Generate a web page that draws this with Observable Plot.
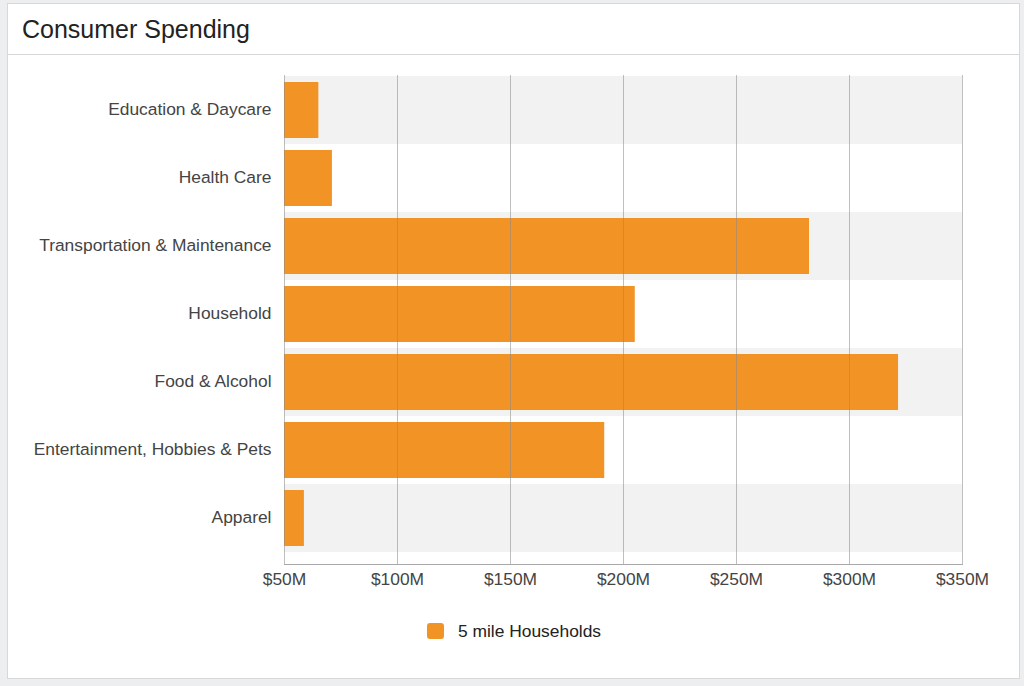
<!DOCTYPE html>
<html><head><meta charset="utf-8">
<script src="https://cdn.jsdelivr.net/npm/d3@7"></script>
<script src="https://cdn.jsdelivr.net/npm/@observablehq/plot@0.6"></script>
<style>
html,body{margin:0;padding:0;}
body{width:1024px;height:686px;background:#eceef0;position:relative;overflow:hidden;font-family:"Liberation Sans",Arial,Helvetica,sans-serif;}
#panel{position:absolute;left:7px;top:3px;width:1013px;height:676px;background:#fff;border:1px solid #d6d8da;box-sizing:border-box;}
#hline{position:absolute;left:8px;top:54px;width:1011px;height:1px;background:#d6d8da;}
#title{position:absolute;left:22px;top:17px;font-size:25px;line-height:25px;color:#222;white-space:nowrap;}
#chart{position:absolute;left:0;top:55px;}
#legend{position:absolute;left:427px;top:623px;height:16px;}
#legend .sw{position:absolute;left:0;top:0;width:17px;height:16px;border-radius:3px;}
#legend .lb{position:absolute;left:31px;top:-0.5px;font-size:17.4px;line-height:17px;color:#222;white-space:nowrap;}
</style></head>
<body>
<div id="panel"></div>
<div id="hline"></div>
<div id="title">Consumer Spending</div>
<div id="chart"></div>
<div id="legend"><div class="sw"></div><div class="lb"></div></div>
<script>
const categories = ["Education & Daycare","Health Care","Transportation & Maintenance","Household","Food & Alcohol","Entertainment, Hobbies & Pets","Apparel"];
const values = [65.2, 71.2, 282.3, 205.2, 321.7, 191.7, 58.8];
const xTicks = [50, 100, 150, 200, 250, 300, 350];
const seriesName = "5 mile Households";
const barColor = "#f29325";

const data = categories.map((c, i) => ({category: c, value: values[i]}));
const shaded = categories.filter((c, i) => i % 2 === 0);
const xMin = xTicks[0], xMax = xTicks[xTicks.length - 1];

const W = 1024, H = 545, top0 = 55;
const chart = Plot.plot({
  width: W, height: H,
  marginLeft: 284, marginRight: 62, marginTop: 20, marginBottom: 36,
  style: {fontFamily: '"Liberation Sans", Arial, Helvetica, sans-serif', fontSize: "17.4px", color: "#444", background: "transparent", overflow: "visible"},
  x: {domain: [xMin, xMax], axis: null},
  y: {domain: categories, range: [75 - top0, 552 - top0], padding: 0, axis: null},
  marks: [
    Plot.barX(shaded, {x1: xMin, x2: xMax, y: d => d, fill: "#f2f2f2"}),
    Plot.barX(data, {x1: xMin, x2: "value", y: "category", fill: barColor, insetTop: 6, insetBottom: 6}),
    Plot.ruleX(xTicks, {stroke: "#8a8a8a", strokeOpacity: 0.55}),
    Plot.frame({anchor: "bottom", stroke: "#a8a8a8"}),
    Plot.axisX({ticks: xTicks, tickFormat: d => `$${d}M`, tickSize: 0, tickPadding: 8, fontSize: 17.4, label: null}),
    Plot.axisY({tickSize: 0, tickPadding: 13, fontSize: 17.4, label: null, dy: -1})
  ]
});
document.getElementById("chart").appendChild(chart);
document.querySelector("#legend .sw").style.background = barColor;
document.querySelector("#legend .lb").textContent = seriesName;
</script>
</body></html>
